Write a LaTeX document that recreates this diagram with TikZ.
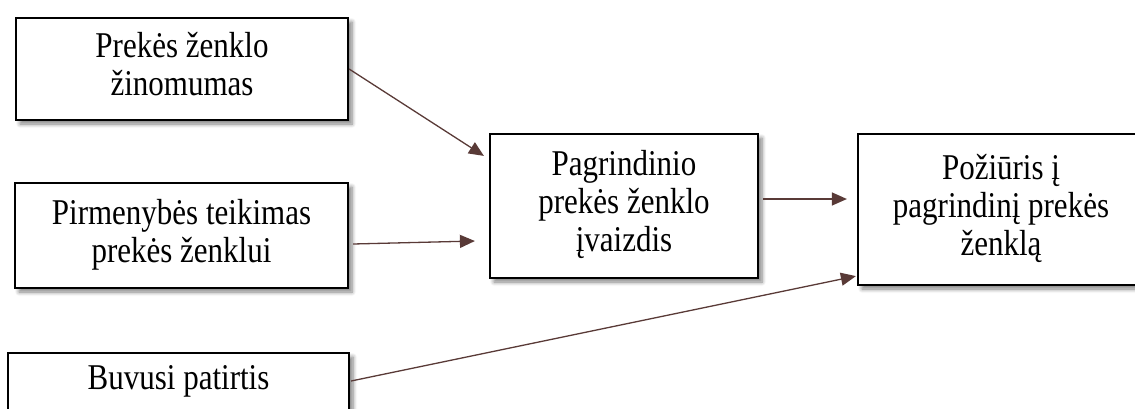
\documentclass[tikz,border=0pt]{standalone}
\usepackage{fontspec}
\usepackage{graphicx}
\setmainfont{Liberation Serif}
\usetikzlibrary{arrows.meta,shadows.blur}
\definecolor{arrowbrown}{RGB}{89,58,55}
% centred block of lines, set a little taller than the plain face
\newcommand{\tallstack}[1]{\scalebox{1}[1.17]{\begin{tabular}{@{}c@{}}#1\end{tabular}}}
\tikzset{
  factor/.style={draw=black, line width=2.2pt, fill=white, inner sep=0pt,
    align=center, font=\fontsize{31}{32.5}\selectfont,
    blur shadow={shadow xshift=4pt, shadow yshift=-4pt, shadow blur steps=6,
      shadow blur radius=4pt, shadow opacity=50}},
  link/.style={draw=arrowbrown, line width=1.3pt,
    -{Triangle[length=15pt,width=13pt]}}
}
\begin{document}
\begin{tikzpicture}[x=1pt,y=-1pt]
  \useasboundingbox (0,0) rectangle (1135,408);
  \clip (0,0) rectangle (1135,408);

  % input factors
  \node[factor, minimum width=332pt, minimum height=102pt] (aware) at (182,69)
    {\tallstack{Prekės ženklo\\žinomumas}};
  \node[factor, minimum width=333pt, minimum height=105pt] (pref) at (181.5,235.5)
    {\tallstack{Pirmenybės teikimas\\prekės ženklui}};
  \node[factor, minimum width=341pt, minimum height=58pt] (exp) at (178.5,382)
    {\tallstack{Buvusi patirtis}};

  % core brand image and resulting attitude
  \node[factor, minimum width=268pt, minimum height=144pt] (image) at (624,206)
    {\tallstack{Pagrindinio\\prekės ženklo\\įvaizdis}};
  \node[factor, minimum width=286pt, minimum height=151pt] (att) at (1001,209.5)
    {\tallstack{Požiūris į\\pagrindinį prekės\\ženklą}};

  % influences
  \draw[link] (aware.east) -- ([xshift=-5pt,yshift=-23pt]image.north west);
  \draw[link] ([xshift=4pt,yshift=-8.5pt]pref.east) -- ([xshift=-14pt,yshift=-35pt]image.west);
  \draw[link] ([xshift=4pt,yshift=7pt]image.east) -- ([xshift=-10pt,yshift=10.5pt]att.west);
  \draw[link] ([xshift=1pt,yshift=1pt]exp.east) -- ([xshift=-1pt,yshift=10pt]att.south west);
\end{tikzpicture}
\end{document}
